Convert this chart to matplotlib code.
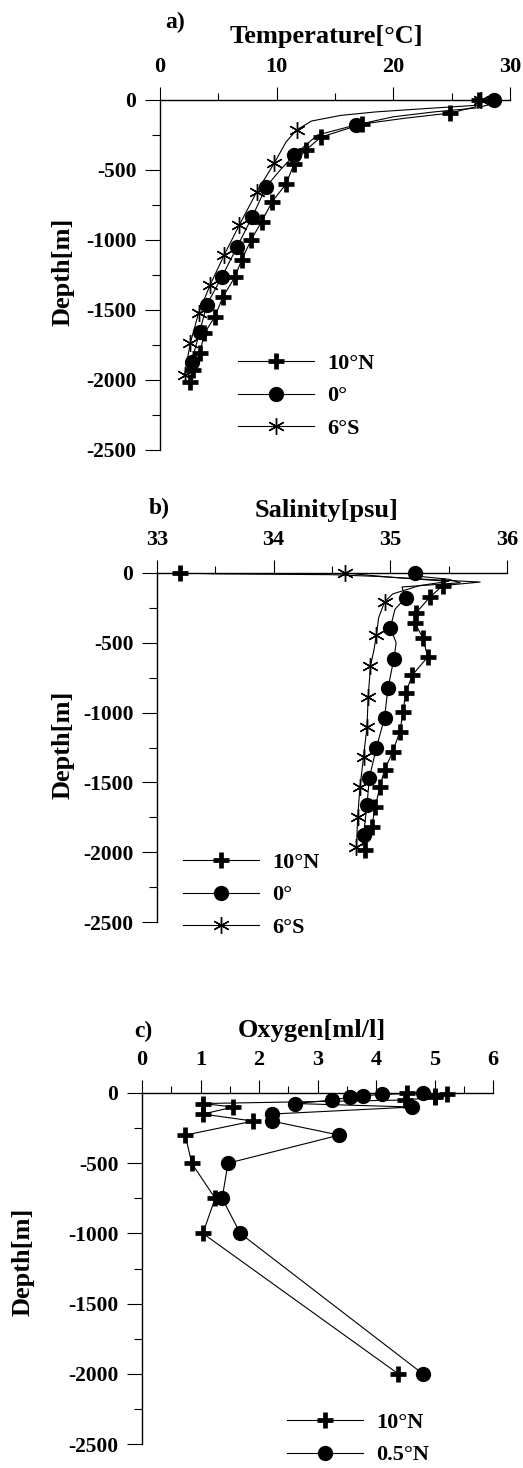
import numpy as np
import matplotlib.pyplot as plt
from matplotlib.lines import Line2D
from matplotlib.ticker import MultipleLocator

plt.rcParams['font.family'] = ['Liberation Serif', 'DejaVu Serif']
plt.rcParams['font.weight'] = 'bold'
plt.rcParams['axes.unicode_minus'] = False

W, H = 523, 1468

# ---- a) temperature profiles (line = full profile, mk = marker points)
t_n10_line_d = [0, -20, -50, -70, -93, -130, -172, -265, -357, -455, -600, -728, -870, -1000, -1143, -1267, -1405, -1548, -1667, -1810, -1929, -2014]
t_n10_line_v = [27.3, 27.4, 27.0, 26.0, 24.9, 21.0, 17.3, 13.8, 12.5, 11.5, 10.8, 9.6, 8.7, 7.8, 7.0, 6.4, 5.4, 4.7, 3.8, 3.4, 2.8, 2.6]
t_n10_mk_d = [0, -93, -172, -265, -357, -455, -600, -728, -870, -1000, -1143, -1267, -1405, -1548, -1667, -1810, -1929, -2014]
t_n10_mk_v = [27.3, 24.9, 17.3, 13.8, 12.5, 11.5, 10.8, 9.6, 8.7, 7.8, 7.0, 6.4, 5.4, 4.7, 3.8, 3.4, 2.8, 2.6]

t_eq_line_d = [0, -30, -57, -85, -120, -178, -250, -393, -500, -620, -836, -1050, -1264, -1464, -1657, -1871, -1950]
t_eq_line_v = [28.6, 28.4, 27.1, 23.5, 20.0, 16.8, 13.5, 11.5, 10.3, 9.1, 7.9, 6.6, 5.3, 4.0, 3.4, 2.7, 2.5]
t_eq_mk_d = [0, -178, -393, -620, -836, -1050, -1264, -1464, -1657, -1871]
t_eq_mk_v = [28.6, 16.8, 11.5, 9.1, 7.9, 6.6, 5.3, 4.0, 3.4, 2.7]

t_s6_line_d = [0, -20, -36, -60, -85, -110, -150, -214, -300, -450, -655, -893, -1107, -1321, -1524, -1736, -1964]
t_s6_line_v = [27.5, 27.6, 27.5, 23.0, 18.5, 15.5, 13.0, 11.7, 10.8, 9.8, 8.3, 6.8, 5.5, 4.3, 3.3, 2.6, 2.1]
t_s6_mk_d = [0, -214, -450, -655, -893, -1107, -1321, -1524, -1736, -1964]
t_s6_mk_v = [27.5, 11.7, 9.8, 8.3, 6.8, 5.5, 4.3, 3.3, 2.6, 2.1]

# ---- b) salinity profiles
s_n10_line_d = [0, -6, -12, -25, -45, -65, -90, -172, -286, -358, -466, -602, -730, -860, -996, -1139, -1282, -1411, -1533, -1676, -1819, -1984]
s_n10_line_v = [33.2, 33.5, 34.5, 34.9, 35.3, 35.77, 35.45, 35.34, 35.22, 35.21, 35.28, 35.32, 35.19, 35.13, 35.11, 35.08, 35.02, 34.95, 34.91, 34.87, 34.84, 34.78]
s_n10_mk_d = [0, -90, -172, -286, -358, -466, -602, -730, -860, -996, -1139, -1282, -1411, -1533, -1676, -1819, -1984]
s_n10_mk_v = [33.2, 35.45, 35.34, 35.22, 35.21, 35.28, 35.32, 35.19, 35.13, 35.11, 35.08, 35.02, 34.95, 34.91, 34.87, 34.84, 34.78]

s_eq_line_d = [0, -20, -45, -70, -100, -178, -260, -393, -500, -616, -824, -1039, -1254, -1468, -1662, -1877, -1950]
s_eq_line_v = [35.21, 35.2, 35.5, 35.6, 35.1, 35.13, 35.04, 35.0, 35.05, 35.03, 34.98, 34.95, 34.88, 34.82, 34.8, 34.77, 34.76]
s_eq_mk_d = [0, -178, -393, -616, -824, -1039, -1254, -1468, -1662, -1877]
s_eq_mk_v = [35.21, 35.13, 35.0, 35.03, 34.98, 34.95, 34.88, 34.82, 34.8, 34.77]

s_s6_line_d = [0, -15, -30, -60, -90, -150, -208, -320, -444, -550, -666, -888, -1103, -1318, -1533, -1748, -1963]
s_s6_line_v = [34.61, 34.8, 35.0, 35.5, 35.25, 35.02, 34.95, 34.9, 34.88, 34.86, 34.83, 34.81, 34.8, 34.77, 34.74, 34.72, 34.71]
s_s6_mk_d = [0, -208, -444, -666, -888, -1103, -1318, -1533, -1748, -1963]
s_s6_mk_v = [34.61, 34.95, 34.88, 34.83, 34.81, 34.8, 34.77, 34.74, 34.72, 34.71]

# ---- c) oxygen (bottle samples)
o_depth = [0, -10, -20, -30, -50, -75, -100, -150, -200, -300, -500, -750, -1000, -2000]
o_n10 = [4.53, 5.22, 5.0, 5.0, 4.5, 1.04, 1.56, 1.04, 1.90, 0.74, 0.85, 1.25, 1.04, 4.38]
o_n05 = [4.8, 4.1, 3.78, 3.56, 3.25, 2.62, 4.62, 2.22, 2.22, 3.37, 1.47, 1.37, 1.68, 4.8]

lab_abc = ['10°N', '0°', '6°S']
lab_c = ['10°N', '0.5°N']

fig = plt.figure(figsize=(W / 100, H / 100), dpi=100)


def px_axes(left, top, right, bottom):
    return fig.add_axes([left / W, 1 - bottom / H, (right - left) / W, (bottom - top) / H])


def ftext(x, y, s, **kw):
    fig.text(x / W, 1 - y / H, s, ha='center', va='center', fontweight='bold', **kw)


plus = dict(marker='+', ms=12, mew=3.4)
dot = dict(marker='o', ms=11, mew=0)
star = dict(marker=(6, 2, 0), ms=12, mew=1.0)


def style(ax, xmin, xmax, major, minor):
    ax.set_xlim(xmin, xmax)
    ax.set_ylim(-2500, 0)
    ax.xaxis.tick_top()
    ax.spines['bottom'].set_visible(False)
    ax.spines['right'].set_visible(False)
    ax.spines['top'].set_linewidth(1)
    ax.spines['left'].set_linewidth(1)
    ax.xaxis.set_major_locator(MultipleLocator(major))
    ax.xaxis.set_minor_locator(MultipleLocator(minor))
    ax.yaxis.set_major_locator(MultipleLocator(500))
    ax.yaxis.set_minor_locator(MultipleLocator(250))
    ax.tick_params(axis='x', which='major', direction='out', length=9.5, width=0.8, pad=7, labelsize=16)
    ax.tick_params(axis='x', which='minor', direction='out', length=5, width=0.8)
    ax.tick_params(axis='y', which='major', direction='out', length=11, width=0.8, pad=6, labelsize=15.5)
    ax.tick_params(axis='y', which='minor', direction='out', length=6, width=0.8)
    for t in ax.get_xticklabels() + ax.get_yticklabels():
        t.set_fontweight('bold')


def profile(ax, ld, lv, md, mv, mk):
    ax.plot(lv, ld, color='k', lw=0.8)
    ax.plot(mv, md, ls='none', color='k', clip_on=False, **mk)


def legend(ax, styles, labels, x, y):
    h = [Line2D([], [], color='k', lw=0.8, **s) for s in styles]
    ax.legend(h, labels, loc='upper left', bbox_to_anchor=(x / W, 1 - y / H),
              bbox_transform=fig.transFigure, frameon=False,
              handlelength=3.4, handletextpad=0.6, labelspacing=0.55,
              borderpad=0, borderaxespad=0, prop={'weight': 'bold', 'size': 16})


# panel a
ax = px_axes(160, 100, 510, 450)
profile(ax, t_n10_line_d, t_n10_line_v, t_n10_mk_d, t_n10_mk_v, plus)
profile(ax, t_eq_line_d, t_eq_line_v, t_eq_mk_d, t_eq_mk_v, dot)
profile(ax, t_s6_line_d, t_s6_line_v, t_s6_mk_d, t_s6_mk_v, star)
style(ax, 0, 30, 10, 5)
legend(ax, [plus, dot, star], lab_abc, 238, 353)
ftext(175, 22, 'a)', fontsize=17)
ftext(326, 37, 'Temperature[°C]', fontsize=19)
ftext(63, 272, 'Depth[m]', fontsize=19, rotation=90)

# panel b
ax = px_axes(157, 573, 507, 922)
profile(ax, s_n10_line_d, s_n10_line_v, s_n10_mk_d, s_n10_mk_v, plus)
profile(ax, s_eq_line_d, s_eq_line_v, s_eq_mk_d, s_eq_mk_v, dot)
profile(ax, s_s6_line_d, s_s6_line_v, s_s6_mk_d, s_s6_mk_v, star)
style(ax, 33, 36, 1, 0.5)
legend(ax, [plus, dot, star], lab_abc, 183, 852)
ftext(159, 508, 'b)', fontsize=17)
ftext(327, 510, 'Salinity[psu]', fontsize=19)
ftext(63, 745, 'Depth[m]', fontsize=19, rotation=90)

# panel c
ax = px_axes(142, 1093, 493, 1444)
ax.plot(o_n10, o_depth, color='k', lw=0.8, clip_on=False, **plus)
ax.plot(o_n05, o_depth, color='k', lw=0.8, clip_on=False, **dot)
style(ax, 0, 6, 1, 0.5)
legend(ax, [plus, dot], lab_c, 287, 1412)
ftext(143, 1031, 'c)', fontsize=17)
ftext(312, 1030, 'Oxygen[ml/l]', fontsize=19)
ftext(23, 1262, 'Depth[m]', fontsize=19, rotation=90)

fig.savefig('out.png', dpi=100)
